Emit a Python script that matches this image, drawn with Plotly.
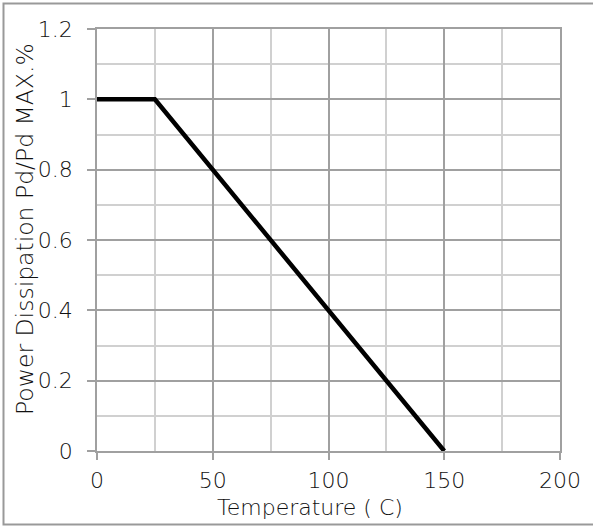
import plotly.graph_objects as go

temperature = [0, 25, 150]
power_ratio = [1.0, 1.0, 0.0]

x_ticks = [0, 50, 100, 150, 200]
y_ticks = [0, 0.2, 0.4, 0.6, 0.8, 1.0, 1.2]
y_tick_labels = ["0", "0.2", "0.4", "0.6", "0.8", "1", "1.2"]

x_title = "Temperature ( C)"
y_title = "Power Dissipation Pd/Pd MAX.%"

W, H = 593, 527
L, R, T, B = 97, 33, 29, 76
pw, ph = W - L - R, H - T - B

def px_to_paper_x(p):
    return (p - L) / pw

def px_to_paper_y(p):
    return (H - B - p) / ph

FONT = "DejaVu Sans ExtraLight, DejaVu Sans"
TXT = "#111111"
major = "#a0a0a0"
minor = "#d0d0d0"

fig = go.Figure()
fig.add_trace(go.Scatter(x=temperature, y=power_ratio, mode="lines",
                         line=dict(color="black", width=4.5), showlegend=False))

axis_common = dict(ticks="outside", tickcolor=major, tickwidth=1.5,
                   showgrid=True, gridcolor=major, gridwidth=1.5,
                   showline=True, linecolor=major, linewidth=1.5, mirror=True,
                   zeroline=False, fixedrange=True, automargin=False,
                   tickfont=dict(family=FONT, size=22, color=TXT, weight=200))

fig.update_layout(
    width=W, height=H,
    margin=dict(l=L, r=R, t=T, b=B),
    paper_bgcolor="white", plot_bgcolor="white",
    font=dict(family=FONT, size=22, color=TXT, weight=200),
    xaxis=dict(range=[0, 200], tickvals=x_ticks, ticklen=7, ticklabelstandoff=2,
               minor=dict(dtick=25, tick0=0, showgrid=True, gridcolor=minor, gridwidth=1.5, ticks=""),
               **axis_common),
    yaxis=dict(range=[0, 1.2], tickvals=y_ticks, ticktext=y_tick_labels, ticklen=8, ticklabelstandoff=10,
               minor=dict(dtick=0.1, tick0=0, showgrid=True, gridcolor=minor, gridwidth=1.5, ticks=""),
               **axis_common),
    annotations=[
        dict(text=x_title, xref="paper", yref="paper", x=px_to_paper_x(310), y=px_to_paper_y(507.5),
             xanchor="center", yanchor="middle", showarrow=False,
             font=dict(family=FONT, size=22, color=TXT, weight=200)),
        dict(text=y_title, xref="paper", yref="paper", x=px_to_paper_x(25), y=px_to_paper_y(229),
             xanchor="center", yanchor="middle", showarrow=False, textangle=-90,
             font=dict(family=FONT, size=23.5, color=TXT, weight=200)),
    ],
    shapes=[dict(type="rect", xref="paper", yref="paper",
                 x0=px_to_paper_x(3.5), x1=px_to_paper_x(620),
                 y0=px_to_paper_y(524.5), y1=px_to_paper_y(3.5),
                 line=dict(color="#999999", width=2), fillcolor="rgba(0,0,0,0)", layer="below")],
)

fig.write_html("out.html", config={"displayModeBar": False},
               post_script="document.body.style.margin='0px';")
